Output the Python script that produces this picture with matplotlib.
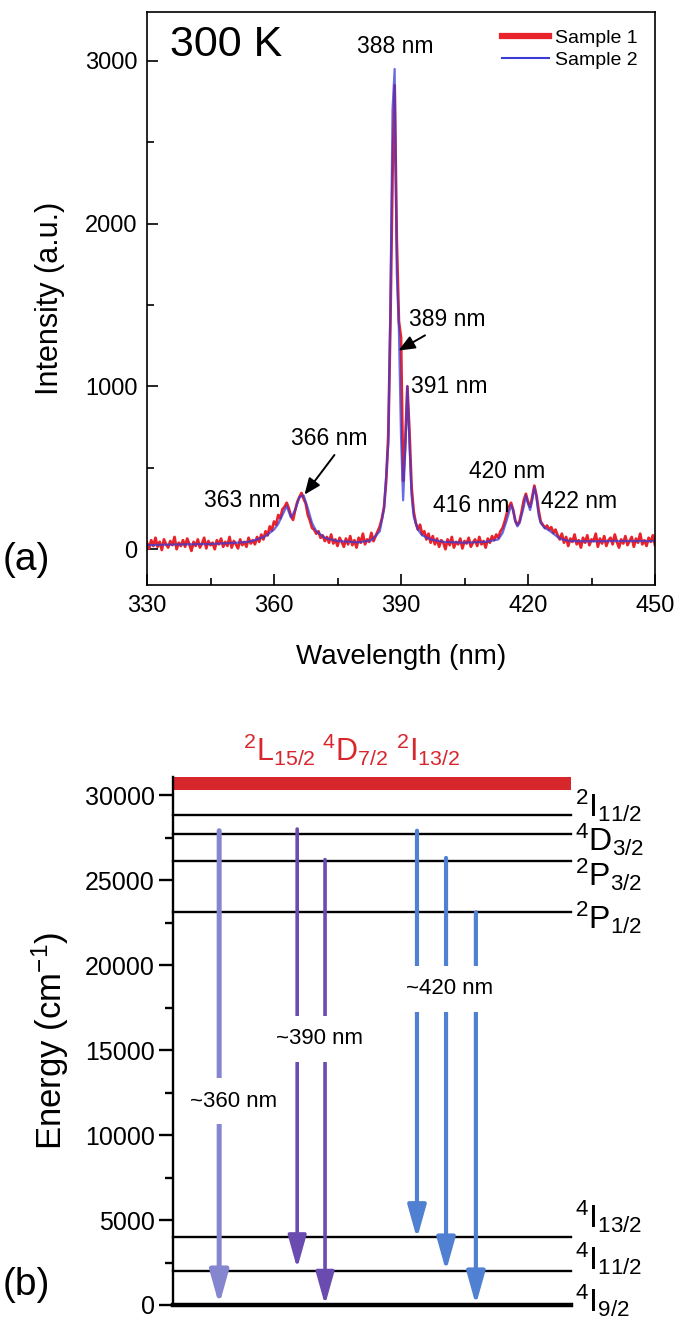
import matplotlib
matplotlib.use("Agg")
import matplotlib.pyplot as plt
import numpy as np
from matplotlib import font_manager
from matplotlib.lines import Line2D

# --- fonts: condensed Arial-like look if available ---
names = {f.name for f in font_manager.fontManager.ttflist}
base = 'Liberation Sans Narrow' if 'Liberation Sans Narrow' in names else 'Liberation Sans'
plt.rcParams['font.family'] = [base, 'DejaVu Sans']
plt.rcParams['mathtext.fontset'] = 'custom'
plt.rcParams['mathtext.rm'] = base
plt.rcParams['mathtext.it'] = base
plt.rcParams['mathtext.bf'] = base

# ---------------- data: panel (a) ----------------
# Sample 1 (noisy), 0.5 nm grid from 330 to 450
wl1_start, wl1_step = 330.0, 0.5
int1 = [
    # 330.0 - 354.5
    40, 5, 55, 20, 70, 15, 45, -5, 60, 30, 10, 50, 25, 75, 0, 40, 20, 55, 15, 65,
    30, -10, 45, 20, 60, 10, 35, 70, 5, 50, 25, 40, 0, 55, 30, 65, 15, 45, 20, 75,
    10, 50, 30, 5, 60, 25, 45, 15, 70, 35,
    # 355.0 - 362.5
    55, 30, 75, 45, 90, 60, 110, 85, 140, 115, 170, 150, 210, 190, 245, 260,
    # 363.0 - 369.5
    285, 250, 205, 180, 240, 290, 320, 345, 310, 280, 210, 175, 130, 120,
    # 370.0 - 384.5
    95, 110, 70, 85, 50, 75, 40, 90, 35, 60, 20, 70, 45, 15, 65, 30, 80, 25, 55, 10,
    70, 40, 95, 30, 60, 45, 100, 50, 80, 110,
    # 385.0 - 393.5
    140, 190, 260, 420, 700, 1400, 2300, 2850, 1900, 1400, 1300, 420, 650, 1000,
    720, 380, 230, 160,
    # 394.0 - 413.5
    120, 150, 90, 110, 60, 95, 40, 80, 30, 65, 15, 55, 40, 0, 60, 25, 75, 10, 45, 30,
    65, 5, 50, 35, 70, 15, 40, 60, 20, 75, 30, 50, 10, 65, 40, 80, 55, 90, 70, 110,
    # 414.0 - 425.5
    130, 170, 220, 260, 285, 240, 175, 150, 170, 230, 300, 340, 290, 260, 320, 390,
    330, 240, 170, 150, 130, 145, 120, 135,
    # 426.0 - 450.0
    100, 120, 85, 60, 95, 40, 75, 20, 65, 45, 90, 30, 55, 10, 70, 40, 85, 25, 60, 50,
    95, 15, 65, 35, 80, 20, 55, 70, 30, 90, 45, 10, 60, 35, 80, 25, 50, 75, 15, 65,
    40, 95, 30, 55, 20, 70, 45, 85, 25,
]
wl1 = wl1_start + wl1_step * np.arange(len(int1))

# Sample 2 (smooth)
wl2 = [330, 335, 340, 345, 350, 354, 356, 358, 360, 361, 362, 363, 364, 365, 366,
       367, 368, 369, 370, 372, 375, 380, 383, 385, 386, 387, 387.5, 388, 388.5,
       389, 389.5, 390, 390.5, 391, 391.5, 392, 392.5, 393, 394, 395, 397, 400,
       405, 410, 413, 414, 415, 416, 416.5, 417, 417.5, 418, 419, 419.5, 420,
       420.5, 421, 421.5, 422, 422.5, 423, 424, 425, 426, 427, 428, 430, 435, 440,
       445, 450]
int2 = [25, 28, 30, 32, 38, 45, 60, 80, 120, 155, 210, 265, 195, 240, 320,
        330, 250, 160, 110, 70, 50, 42, 55, 110, 250, 650, 1500, 2700, 2950,
        1700, 1350, 700, 300, 600, 1000, 650, 330, 200, 120, 85, 60, 45,
        40, 45, 60, 100, 180, 270, 240, 170, 140, 160, 260, 330, 280,
        240, 300, 380, 320, 210, 160, 130, 115, 95, 75, 60, 50, 48, 50,
        50, 50]

# peak labels: (text, text x, text y, ha, arrow tip x, arrow tip y or None)
peak_labels = [
    ('388 nm', 388.6, 3090, 'center', None, None),
    ('389 nm', 401.0, 1410, 'center', 389.4, 1220),
    ('391 nm', 392.3, 1000, 'left', None, None),
    ('366 nm', 373.0, 680, 'center', 367.2, 335),
    ('363 nm', 352.5, 300, 'center', None, None),
    ('416 nm', 406.5, 270, 'center', None, None),
    ('420 nm', 415.0, 480, 'center', None, None),
    ('422 nm', 432.0, 290, 'center', None, None),
]
arrow_relpos = {'389 nm': (0.3, 0.0), '366 nm': (0.62, 0.0)}

# ---------------- data: panel (b) ----------------
levels = [28800, 27700, 26100, 23100, 4000, 2000, 0]
level_labels = [r'$^{2}\mathrm{I}_{11/2}$', r'$^{4}\mathrm{D}_{3/2}$', r'$^{2}\mathrm{P}_{3/2}$',
                r'$^{2}\mathrm{P}_{1/2}$', r'$^{4}\mathrm{I}_{13/2}$', r'$^{4}\mathrm{I}_{11/2}$',
                r'$^{4}\mathrm{I}_{9/2}$']
label_baselines = [28700, 26700, 24650, 22100, 4550, 2080, -400]
band = (30300, 31060)
band_labels = [r'$^{2}\mathrm{L}_{15/2}$', r'$^{4}\mathrm{D}_{7/2}$', r'$^{2}\mathrm{I}_{13/2}$']

# transitions: x (fraction), start energy, end energy, colour, width
trans_x = [0.116, 0.312, 0.382, 0.613, 0.686, 0.761]
trans_top = [27900, 28000, 26200, 27900, 26300, 23100]
trans_end = [0, 2150, 0, 3900, 2000, 0]
trans_col = ['#8585d0', '#6a4bb0', '#6a4bb0', '#4f80d2', '#4f80d2', '#4f80d2']
trans_lw = [3.6, 2.6, 2.6, 3.0, 3.0, 3.0]
trans_text = [('~360 nm', 0.153, 12000), ('~390 nm', 0.367, 15650), ('~420 nm', 0.696, 18600)]

# ---------------- figure ----------------
W, H = 675, 1329
fig = plt.figure(figsize=(W / 100, H / 100), dpi=100, facecolor='white')

# ---- panel (a) ----
ax1 = fig.add_axes([147 / W, 1 - 585 / H, (655 - 147) / W, (585 - 12) / H])
ax1.plot(wl1, int1, color='#e8232b', lw=2.0, label='Sample 1')
ax1.plot(wl2, int2, color='#3b3bd6', lw=1.6, alpha=0.75, label='Sample 2')
ax1.set_xlim(330, 450)
ax1.set_ylim(-220, 3300)
ax1.set_xticks(np.arange(330, 451, 30))
ax1.set_xticks(np.arange(345, 450, 30), minor=True)
ax1.set_yticks([0, 1000, 2000, 3000])
ax1.set_yticks([500, 1500, 2500], minor=True)
ax1.tick_params(which='both', direction='in', top=False, right=False, width=1.2,
                labelsize=17, pad=7)
ax1.tick_params(which='major', length=8)
ax1.tick_params(which='minor', length=5)
for s in ax1.spines.values():
    s.set_linewidth(1.2)
ax1.set_xlabel('Wavelength (nm)', fontsize=20, labelpad=20)
ax1.set_ylabel('Intensity (a.u.)', fontsize=22, labelpad=14)

ax1.text(335.5, 3100, '300 K', fontsize=31, ha='left', va='center')

for txt, tx, ty, ha, px, py in peak_labels:
    if px is None:
        ax1.text(tx, ty, txt, fontsize=16.5, ha=ha, va='center')
    else:
        ax1.annotate(txt, xy=(px, py), xytext=(tx, ty), fontsize=16.5, ha=ha, va='center',
                     arrowprops=dict(arrowstyle='-|>,head_length=0.6,head_width=0.25',
                                     color='black', lw=1.4, shrinkA=2, shrinkB=0,
                                     relpos=arrow_relpos[txt]))

handles = [Line2D([0], [0], color='#e8232b', lw=4.5),
           Line2D([0], [0], color='#3b3bd6', lw=1.5)]
ax1.legend(handles, ['Sample 1', 'Sample 2'], loc='upper right', frameon=False, fontsize=14,
           handlelength=2.4, handletextpad=0.3, labelspacing=0.2, borderaxespad=0.5)

fig.text(0.004, 1 - 560 / H, '(a)', fontsize=28, ha='left', va='center')

# ---- panel (b) ----
ax2 = fig.add_axes([173 / W, 1 - 1305 / H, (571 - 173) / W, (1305 - 777) / H])
ax2.set_xlim(0, 1)
ax2.set_ylim(0, band[1])
ax2.axhspan(band[0], band[1], color='#d8262d', lw=0)
for y in levels:
    ax2.axhline(y, color='black', lw=3.2 if y == 0 else 1.7, clip_on=False)
for lab, yb in zip(level_labels, label_baselines):
    ax2.text(1.01, yb, lab, fontsize=23, ha='left', va='baseline', clip_on=False)
for lab, xf in zip(band_labels, [0.176, 0.374, 0.560]):
    ax2.text(xf, 32000, lab, fontsize=22, color='#d8262d', ha='left', va='baseline',
             clip_on=False)

for x, y0, y1, c, lw in zip(trans_x, trans_top, trans_end, trans_col, trans_lw):
    ax2.annotate('', xy=(x, y1), xytext=(x, y0),
                 arrowprops=dict(arrowstyle='-|>,head_length=1.0,head_width=0.28',
                                 mutation_scale=20, color=c, lw=lw, shrinkA=0, shrinkB=0))
for txt, x, y in trans_text:
    ax2.text(x, y, txt, fontsize=16, ha='center', va='center', zorder=5,
             bbox=dict(boxstyle='square,pad=0.55', fc='white', ec='none'))

ax2.spines[['top', 'right', 'bottom']].set_visible(False)
ax2.spines['left'].set_linewidth(1.7)
ax2.set_xticks([])
ax2.set_yticks(np.arange(0, 30001, 5000))
ax2.set_yticks(np.arange(2500, 30000, 5000), minor=True)
ax2.tick_params(which='both', direction='out', width=1.7, labelsize=18, pad=3)
ax2.tick_params(which='major', length=10)
ax2.tick_params(which='minor', length=6)
ax2.set_ylabel(r'Energy (cm$^{-1}$)', fontsize=25, labelpad=10)

fig.text(0.004, 1 - 1285 / H, '(b)', fontsize=28, ha='left', va='center')

fig.savefig('out.png', dpi=100, facecolor='white')
